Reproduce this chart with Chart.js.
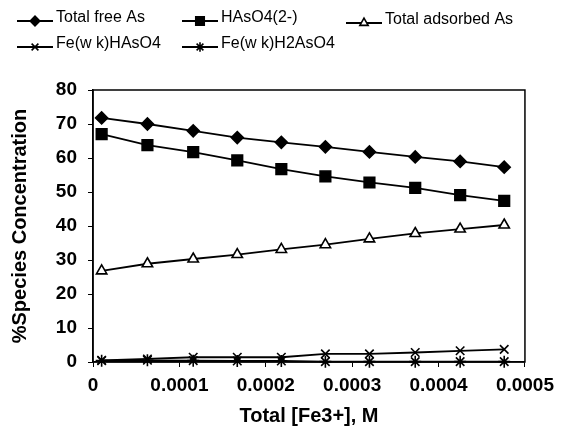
<!DOCTYPE html>
<html>
<head>
<meta charset="utf-8">
<script src="https://cdn.jsdelivr.net/npm/chart.js@4/dist/chart.umd.min.js"></script>
<style>
  html, body { margin: 0; padding: 0; background: #fff; }
  canvas { display: block; }
</style>
</head>
<body>
<canvas id="speciesChart" width="561" height="434"></canvas>
<script>
// valores
const feTotal = [0.00001, 0.000063, 0.000116, 0.000167, 0.000218, 0.000269, 0.00032, 0.000373, 0.000425, 0.000476];
const totalFreeAs = [71.8, 70.0, 68.0, 66.0, 64.6, 63.3, 61.8, 60.3, 59.0, 57.3];
const hAsO4 = [67.0, 63.8, 61.7, 59.3, 56.7, 54.6, 52.8, 51.2, 49.1, 47.4];
const totalAdsorbedAs = [26.8, 28.9, 30.3, 31.6, 33.1, 34.5, 36.2, 37.8, 39.1, 40.3];
const feWkHAsO4 = [0.5, 0.9, 1.4, 1.4, 1.4, 2.4, 2.4, 2.8, 3.3, 3.7];
const feWkH2AsO4 = [0.4, 0.5, 0.4, 0.3, 0.3, 0.1, 0.1, 0.1, 0.1, 0.1];
const seriesNames = ['Total free As', 'HAsO4(2-)', 'Total adsorbed As', 'Fe(w k)HAsO4', 'Fe(w k)H2AsO4'];

const FONT = "'Liberation Sans', Arial, sans-serif";

function puntos(valores) {
  return valores.map((v, i) => ({ x: feTotal[i], y: v }));
}

function serie(nombre, valores, estilo, radio, relleno) {
  return {
    label: nombre,
    data: puntos(valores),
    borderColor: '#000',
    borderWidth: 1.8,
    pointStyle: estilo,
    pointRadius: radio,
    pointBackgroundColor: relleno,
    pointBorderColor: '#000',
    pointBorderWidth: 1.6,
    tension: 0,
    clip: false
  };
}

// leyenda dibujada a mano: linea + marcador + texto
const leyendaManual = {
  id: 'leyendaManual',
  afterDraw(chart) {
    const ctx = chart.ctx;
    const items = [
      { x: 17, y: 21 }, { x: 182, y: 21 }, { x: 346, y: 23 },
      { x: 17, y: 47 }, { x: 182, y: 47 }
    ];
    ctx.save();
    chart.data.datasets.forEach((ds, i) => {
      const it = items[i];
      ctx.strokeStyle = '#000';
      ctx.lineWidth = 1.8;
      ctx.beginPath();
      ctx.moveTo(it.x, it.y);
      ctx.lineTo(it.x + 36, it.y);
      ctx.stroke();
      ctx.fillStyle = ds.pointBackgroundColor;
      ctx.strokeStyle = '#000';
      ctx.lineWidth = ds.pointBorderWidth;
      Chart.helpers.drawPoint(ctx, {
        pointStyle: ds.pointStyle,
        radius: ds.pointRadius * 0.8,
        rotation: 0,
        borderWidth: ds.pointBorderWidth
      }, it.x + 18, it.y);
      ctx.fillStyle = '#000';
      ctx.font = '16px ' + FONT;
      ctx.textBaseline = 'middle';
      ctx.textAlign = 'left';
      ctx.fillText(ds.label, it.x + 39, it.y - 3);
    });
    ctx.restore();
  }
};

// marco completo del area de trazado
const marco = {
  id: 'marco',
  beforeDatasetsDraw(chart) {
    const { left, top, right, bottom } = chart.chartArea;
    const ctx = chart.ctx;
    ctx.save();
    ctx.strokeStyle = '#000';
    ctx.lineWidth = 1.5;
    ctx.strokeRect(left, top, right - left, bottom - top);
    ctx.restore();
  }
};

const ctx = document.getElementById('speciesChart').getContext('2d');
new Chart(ctx, {
  type: 'line',
  data: {
    datasets: [
      serie(seriesNames[0], totalFreeAs, 'rectRot', 6, '#000'),
      serie(seriesNames[1], hAsO4, 'rect', 7.5, '#000'),
      serie(seriesNames[2], totalAdsorbedAs, 'triangle', 6, '#fff'),
      serie(seriesNames[3], feWkHAsO4, 'crossRot', 6, '#000'),
      serie(seriesNames[4], feWkH2AsO4, 'star', 6, '#000')
    ]
  },
  options: {
    responsive: false,
    animation: false,
    layout: { padding: { top: 90, left: 8, right: 33, bottom: 6 } },
    plugins: {
      legend: { display: false },
      tooltip: { enabled: false }
    },
    scales: {
      x: {
        type: 'linear',
        min: 0,
        max: 0.0005,
        ticks: {
          stepSize: 0.0001,
          color: '#000',
          font: { family: FONT, size: 19, weight: 'bold' },
          padding: 7,
          maxRotation: 0,
          callback: v => v === 0 ? '0' : v.toFixed(4)
        },
        grid: { drawOnChartArea: false, tickLength: 5, color: '#000' },
        border: { color: '#000', width: 1.5 },
        title: {
          display: true,
          text: 'Total [Fe3+], M',
          color: '#000',
          font: { family: FONT, size: 20, weight: 'bold' },
          padding: { top: 6, bottom: 0 }
        },
        afterFit(scale) { scale.height = 66; }
      },
      y: {
        min: 0,
        max: 80,
        ticks: {
          stepSize: 10,
          color: '#000',
          font: { family: FONT, size: 19, weight: 'bold' },
          padding: 11
        },
        grid: { drawOnChartArea: false, tickLength: 5, color: '#000' },
        border: { color: '#000', width: 1.5 },
        title: {
          display: true,
          text: '%Species Concentration',
          color: '#000',
          font: { family: FONT, size: 20, weight: 'bold' },
          padding: { top: 0, bottom: 10 }
        },
        afterFit(scale) { scale.width = 85; }
      }
    }
  },
  plugins: [leyendaManual, marco]
});
</script>
</body>
</html>
